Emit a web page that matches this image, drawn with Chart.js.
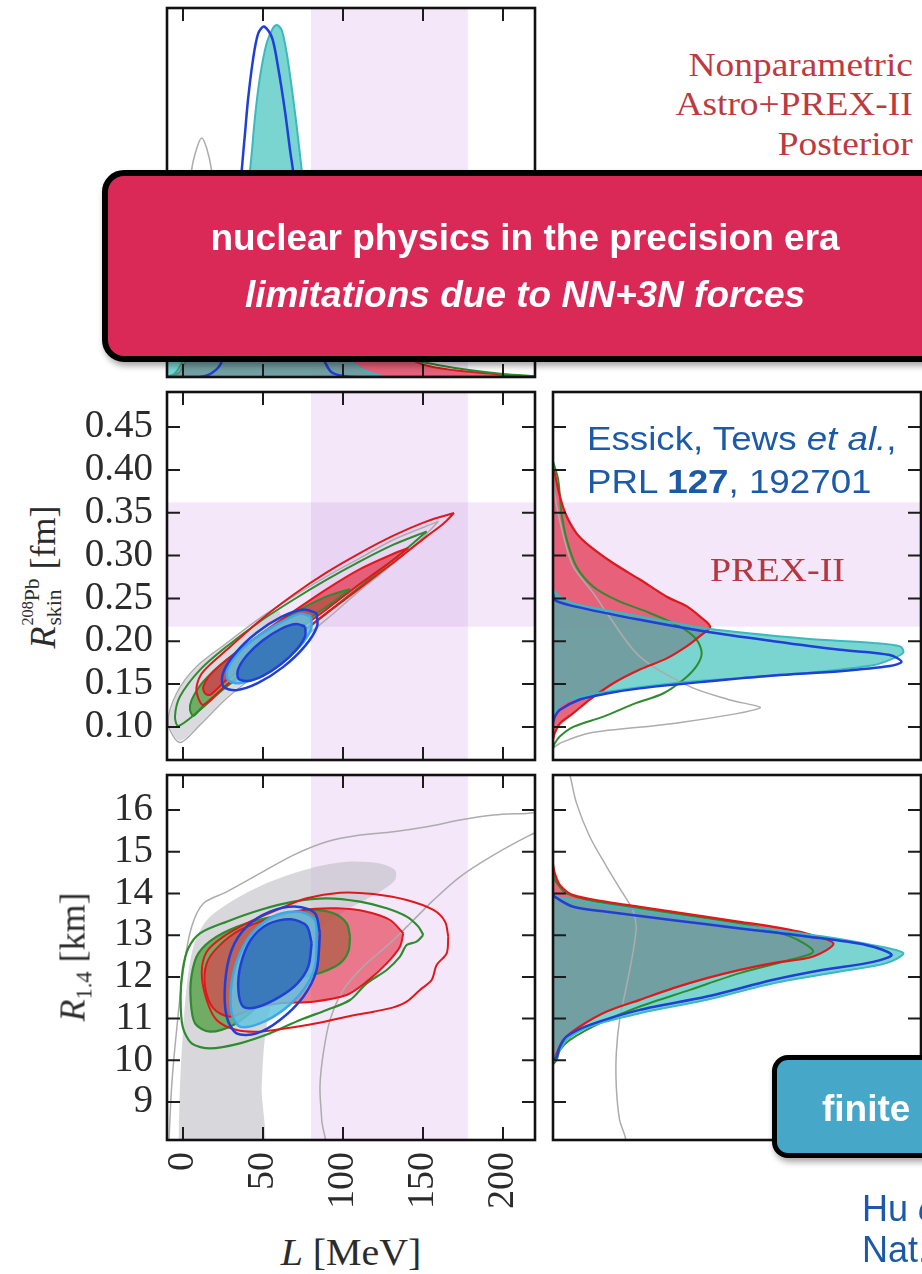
<!DOCTYPE html>
<html><head><meta charset="utf-8">
<script src="https://cdn.jsdelivr.net/npm/chart.js@4.4.1/dist/chart.umd.min.js"></script>
<style>
html,body{margin:0;padding:0;background:#fff;}
body{width:922px;height:1274px;position:relative;overflow:hidden;}
canvas{position:absolute;}
.t{position:absolute;white-space:nowrap;line-height:1;}
.serif{font-family:'Liberation Serif','DejaVu Serif',serif;}
.sans{font-family:'Liberation Sans',Arial,sans-serif;}
.ax{position:absolute;font-family:'Liberation Serif',serif;font-size:36px;color:#2b2b2b;white-space:nowrap;line-height:1;}
.rot{transform:translate(-50%,-50%) rotate(-90deg);}
.ss{display:inline-block;vertical-align:-0.3em;font-size:0.6em;line-height:1;margin-left:1px;text-align:left;}
.ss span{display:block;}
.ss small{font-size:0.75em;position:relative;top:-0.35em;}
.tr{position:absolute;right:9px;font-family:'Liberation Serif',serif;font-size:34px;color:#bd3a3f;line-height:1;white-space:nowrap;transform:scaleX(1.1);transform-origin:right center;}
.bt{position:absolute;font-family:'Liberation Sans',Arial,sans-serif;color:#1c5aa8;line-height:1;white-space:nowrap;}
.wide{transform:scaleX(1.08);transform-origin:left center;}
</style></head><body>
<canvas id="tl" width="382" height="384" style="left:160px;top:0px"></canvas>
<canvas id="ml" width="462" height="382" style="left:80px;top:385px"></canvas>
<canvas id="mr" width="385" height="382" style="left:546px;top:385px"></canvas>
<canvas id="bl" width="462" height="460" style="left:80px;top:768px"></canvas>
<canvas id="br" width="385" height="379" style="left:546px;top:768px"></canvas>

<div class="tr" style="top:48px">Nonparametric</div>
<div class="tr" style="top:87px">Astro+PREX-II</div>
<div class="tr" style="top:127px">Posterior</div>

<div class="t serif" style="left:710px;top:554px;font-size:33px;color:#b5373f;transform:scaleX(1.15);transform-origin:left center">PREX-II</div>

<div class="bt wide" style="left:587px;top:421px;font-size:34px">Essick, Tews <i>et al.</i>,</div>
<div class="bt wide" style="left:587px;top:464px;font-size:34px">PRL <b>127</b>, 192701</div>

<div class="ax rot" style="left:44px;top:577px"><i>R</i><span class="ss"><span><small>208</small>Pb</span><span>skin</span></span>&nbsp;[fm]</div>
<div class="ax rot" style="left:75px;top:957px"><i>R</i><sub style="font-size:0.62em;vertical-align:-0.3em">1.4</sub>&nbsp;[km]</div>
<div class="ax" style="left:351px;top:1233px;font-size:38px;transform:translateX(-50%) scaleX(1.05)"><i>L</i>&nbsp;[MeV]</div>

<div style="position:absolute;left:102px;top:170px;width:850px;height:192px;box-sizing:border-box;border:6px solid #000;border-radius:22px;background:#da2857;box-shadow:2px 4px 6px rgba(0,0,0,0.35);"></div>
<div class="t sans" style="left:525px;top:219px;transform:translateX(-50%);font-size:37px;font-weight:bold;color:#fff">nuclear physics in the precision era</div>
<div class="t sans" style="left:525px;top:276px;transform:translateX(-50%);font-size:37px;font-weight:bold;font-style:italic;color:#fff">limitations due to NN+3N forces</div>

<div style="position:absolute;left:772px;top:1055px;width:320px;height:103px;box-sizing:border-box;border:5px solid #000;border-radius:16px;background:#46a7c9;box-shadow:2px 4px 6px rgba(0,0,0,0.35);"></div>
<div class="t sans" style="left:822px;top:1090px;font-size:37px;font-weight:bold;color:#fff">finite</div>

<div class="bt" style="left:862px;top:1191px;font-size:36px">Hu <i>et al.</i>,</div>
<div class="bt" style="left:862px;top:1232px;font-size:36px">Nat. Phys. 18, 1196</div>

<script>
// ---- axis ticks & bands ----
const lTicks = [0, 50, 100, 150, 200];
const skinTicks = [0.10, 0.15, 0.20, 0.25, 0.30, 0.35, 0.40, 0.45];
const r14Ticks = [9, 10, 11, 12, 13, 14, 15, 16];
const prexL = [80, 178];
const prexSkin = [0.217, 0.362];

// ---- top-left: marginal of L  [L, density] ----
const lGray = [[-10,0.08],[0,0.12],[3,0.35],[5.4,0.56],[8.6,0.62],[11.7,0.648],[14.8,0.62],[17.9,0.56],[22,0.42],[28,0.28],[40,0.17],[60,0.12],[100,0.09],[150,0.08],[220,0.075]];
const lRed = [[-10,0],[-3,0.01],[0,0.03],[5,0.07],[15,0.16],[30,0.3],[45,0.42],[60,0.48],[75,0.46],[90,0.37],[105,0.24],[120,0.13],[135,0.068],[150,0.034],[170,0.018],[190,0.01],[205,0.004],[220,0]];
const lGreen = [[-10,0],[-5,0.01],[0,0.045],[10,0.15],[25,0.31],[40,0.43],[55,0.45],[70,0.39],[85,0.28],[100,0.17],[120,0.085],[140,0.05],[160,0.032],[180,0.018],[200,0.008],[220,0.002]];
const lCyan = [[-10,0.05],[0,0.06],[10,0.07],[20,0.09],[28,0.15],[34,0.3],[38,0.45],[41.9,0.561],[45,0.705],[48.1,0.813],[52.3,0.905],[56.25,0.946],[58.75,0.954],[61.7,0.94],[64.8,0.878],[67.9,0.786],[71.1,0.678],[74.2,0.561],[78,0.43],[82,0.3],[87,0.17],[93,0.09],[100,0.055],[105,0.04],[115,0.015],[130,0],[220,0]];
const lBlue = [[-10,0],[10,0],[18,0.011],[24,0.04],[30,0.2],[34,0.4],[36.7,0.56],[38.75,0.66],[40.6,0.75],[43.75,0.86],[46.9,0.93],[50.6,0.95],[55.6,0.92],[59.4,0.84],[63.75,0.72],[66.9,0.615],[68.75,0.56],[72,0.44],[76,0.3],[80,0.18],[85,0.08],[89,0.038],[93,0.012],[100,0.003],[110,0],[220,0]];

// ---- middle-left: R_skin vs L contours [L, R_skin] ----
const skinGrayOuter = [[159.6,0.3399],[131.5,0.3185],[110.6,0.2971],[89.8,0.2757],[69.0,0.2523],[48.1,0.2270],[27.3,0.1978],[8.5,0.1705],[-4.0,0.1393],[-9.2,0.1043],[-1.9,0.0817],[10.6,0.1024],[27.3,0.1335],[48.1,0.1647],[69.0,0.1947],[89.8,0.2258],[110.6,0.2593],[131.5,0.2904],[148.1,0.3177],[159.6,0.3399]];
const skinGrayFill = [[60,0.236],[48.1,0.2240],[27.3,0.1960],[8.5,0.1690],[-3.5,0.1390],[-8.6,0.1050],[-1.9,0.0840],[10.6,0.1040],[27.3,0.1350],[48.1,0.1660],[60,0.182],[66,0.205],[60,0.236]];
const skinGreenOuter = [[152.3,0.3282],[131.5,0.3127],[110.6,0.2932],[89.8,0.2718],[69.0,0.2484],[48.1,0.2231],[27.3,0.1939],[10.6,0.1666],[-1.9,0.1354],[-5.0,0.1121],[-2.9,0.1012],[10.6,0.1199],[27.3,0.1471],[48.1,0.1744],[69.0,0.2017],[89.8,0.2328],[110.6,0.2640],[131.5,0.2951],[144.0,0.3146],[152.3,0.3282]];
const skinGreenFill = [[104.4,0.2609],[89.8,0.2523],[69.0,0.2328],[48.1,0.2075],[27.3,0.1783],[12.7,0.1530],[5.4,0.1315],[4.4,0.1199],[6.5,0.1129],[12.7,0.1248],[23.1,0.1420],[37.7,0.1650],[58.5,0.1960],[79.4,0.2270],[94.0,0.2460],[104.4,0.2609]];
const skinRedOuter = [[169.4,0.3496],[152.3,0.3399],[131.5,0.3232],[110.6,0.3029],[89.8,0.2803],[69.0,0.2542],[48.1,0.2243],[27.3,0.1900],[12.7,0.1647],[8.5,0.1471],[9.6,0.1335],[12.7,0.1257],[27.3,0.1491],[48.1,0.1764],[69.0,0.2036],[89.8,0.2328],[110.6,0.2620],[131.5,0.2920],[152.3,0.3224],[162.7,0.3372],[169.4,0.3496]];
const skinRedFill = [[140.8,0.3088],[131.5,0.3021],[110.6,0.2842],[89.8,0.2609],[69.0,0.2347],[48.1,0.2075],[27.3,0.1783],[16.9,0.1608],[12.7,0.1471],[13.8,0.1393],[16.9,0.1374],[27.3,0.1549],[48.1,0.1822],[69.0,0.2094],[89.8,0.2374],[110.6,0.2670],[131.5,0.2951],[140.8,0.3088]];
const skinCyanMid = [[80,0.229],[80,0.214],[73,0.194],[61,0.174],[47,0.158],[35,0.151],[28,0.155],[28,0.168],[35,0.187],[47,0.206],[61,0.222],[73,0.232],[80,0.229]];
const skinBlueFill = [[76.3,0.2172],[76.4,0.2063],[70.9,0.1901],[61.2,0.1731],[50.0,0.1597],[40.3,0.1537],[34.6,0.1565],[34.5,0.1675],[40.0,0.1837],[49.6,0.2006],[60.8,0.2140],[70.6,0.2200],[76.3,0.2172]];
const skinBlueOuter = [[83.5,0.2328],[83.8,0.2172],[76.2,0.1943],[62.7,0.1701],[47.0,0.1514],[33.3,0.1429],[25.2,0.1471],[25.0,0.1628],[32.6,0.1858],[46.0,0.2098],[61.8,0.2286],[75.5,0.2370],[83.5,0.2328]];

// ---- middle-right: marginal of R_skin [density, R_skin] ----
const skinRedD = [[0,0.40],[0.005,0.396],[0.014,0.377],[0.033,0.350],[0.064,0.326],[0.100,0.311],[0.164,0.291],[0.236,0.272],[0.309,0.252],[0.363,0.241],[0.399,0.229],[0.427,0.217],[0.399,0.206],[0.363,0.194],[0.309,0.180],[0.236,0.167],[0.164,0.151],[0.100,0.132],[0.055,0.116],[0.019,0.104],[0.005,0.093],[0,0.085]];
const skinGreenD = [[0,0.41],[0.014,0.389],[0.023,0.350],[0.037,0.319],[0.064,0.287],[0.109,0.264],[0.173,0.248],[0.263,0.233],[0.345,0.217],[0.390,0.202],[0.404,0.186],[0.390,0.171],[0.354,0.155],[0.299,0.139],[0.227,0.128],[0.137,0.112],[0.055,0.100],[0.019,0.089],[0.005,0.081],[0,0.075]];
const skinBlueD = [[0,0.255],[0.005,0.248],[0.055,0.241],[0.236,0.225],[0.418,0.211],[0.599,0.200],[0.780,0.190],[0.915,0.184],[0.947,0.176],[0.915,0.171],[0.780,0.165],[0.599,0.160],[0.418,0.153],[0.236,0.145],[0.146,0.139],[0.073,0.132],[0.019,0.120],[0.005,0.112],[0,0.105]];
const skinCyanD = [[0,0.26],[0.019,0.252],[0.055,0.244],[0.236,0.229],[0.418,0.215],[0.689,0.203],[0.870,0.198],[0.943,0.194],[0.952,0.187],[0.925,0.180],[0.870,0.172],[0.689,0.163],[0.508,0.157],[0.327,0.151],[0.146,0.141],[0.055,0.133],[0.019,0.126],[0,0.115]];
const skinGrayD = [[0,0.40],[0.005,0.37],[0.03,0.32],[0.055,0.287],[0.11,0.256],[0.146,0.233],[0.236,0.182],[0.372,0.147],[0.481,0.1315],[0.562,0.122],[0.327,0.104],[0.1,0.093],[0.019,0.081],[0,0.075]];

// ---- bottom-left: R_1.4 vs L contours [L, R_1.4] ----
const r14GrayOuter = [[-9.2,7.7],[-7.1,9.37],[-4.0,10.72],[0.2,12.17],[5.4,13.20],[12.7,13.76],[27.3,14.04],[48.1,14.48],[69.0,14.92],[89.8,15.24],[110.6,15.40],[131.5,15.48],[152.3,15.60],[173.1,15.76],[194.0,15.88],[214.8,15.92],[235,15.96],[235,15.72],[216.9,15.40],[194.0,14.92],[173.1,14.40],[156.5,13.84],[144.0,13.36],[129.4,12.81],[112.7,12.25],[100.2,11.69],[91.9,10.97],[87.7,10.17],[85.6,9.37],[86.7,8.57],[87.7,7.7],[-9.2,7.7]];
const r14GrayFill = [[-2.9,7.7],[-1.9,9.37],[-0.2,10.57],[2.3,11.77],[6.5,12.73],[14.8,13.36],[31.5,13.84],[54.4,14.28],[79.4,14.60],[102.3,14.76],[123.1,14.72],[132.5,14.56],[132.5,14.32],[123.1,14.04],[102.3,13.60],[81.5,13.05],[66.9,12.41],[56.5,11.53],[51.3,10.57],[49.2,9.37],[48.1,7.7],[-2.9,7.7]];
const r14RedOuter = [[165.8,12.965],[164.8,12.565],[158.5,12.285],[155.4,11.926],[148.1,11.686],[139.8,11.406],[131.5,11.270],[119.0,11.166],[102.3,11.047],[83.5,10.887],[64.8,10.767],[48.1,10.687],[33.5,10.727],[21.0,10.967],[14.8,11.446],[11.7,12.085],[14.8,12.605],[25.2,12.965],[39.8,13.284],[58.5,13.604],[77.3,13.884],[98.1,14.020],[119.0,13.988],[139.8,13.844],[156.5,13.604],[163.8,13.324],[165.8,12.965]];
const r14GreenOuter = [[150.2,13.005],[146.0,12.845],[139.8,12.765],[135.6,12.485],[127.3,12.165],[114.8,11.846],[104.4,11.446],[89.8,11.206],[73.1,10.967],[54.4,10.647],[35.6,10.407],[16.9,10.287],[5.4,10.407],[-0.2,10.807],[-1.5,11.526],[-0.2,12.165],[3.3,12.685],[10.6,13.045],[27.3,13.324],[48.1,13.604],[69.0,13.804],[89.8,13.884],[110.6,13.804],[127.3,13.644],[139.8,13.444],[147.1,13.205],[150.2,13.005]];
const r14GreenFill = [[104.4,12.965],[103.3,12.605],[98.1,12.325],[87.7,12.125],[73.1,11.966],[58.5,11.686],[44.0,11.206],[31.5,10.847],[16.9,10.687],[7.5,10.887],[4.8,11.446],[5.4,12.046],[9.6,12.565],[21.0,12.965],[39.8,13.284],[60.6,13.484],[79.4,13.604],[94.0,13.524],[102.3,13.284],[104.4,12.965]];
const r14RedFill = [[137.7,13.045],[135.6,12.725],[127.3,12.325],[114.8,11.886],[102.3,11.566],[81.5,11.406],[60.6,11.366],[44.0,11.246],[29.4,11.047],[19.0,11.246],[13.8,11.766],[14.8,12.325],[22.1,12.725],[35.6,13.125],[54.4,13.404],[75.2,13.604],[96.0,13.644],[114.8,13.564],[129.4,13.364],[137.7,13.045]];
const r14Cyan = [[83.5,12.965],[82.5,12.245],[75.2,11.686],[62.7,11.206],[48.1,10.887],[35.6,10.807],[30.4,11.126],[30.4,11.846],[35.6,12.565],[45.0,13.125],[58.5,13.484],[73.1,13.564],[82.5,13.364],[83.5,12.965]];
const r14BlueFill = [[80.4,12.805],[78.3,12.245],[71.5,11.846],[60.6,11.526],[47.1,11.286],[37.7,11.286],[34.6,11.686],[36.0,12.285],[42.3,12.885],[53.3,13.268],[67.3,13.380],[77.3,13.220],[80.4,12.805]];
const r14BlueOuter = [[85.6,13.045],[83.5,12.165],[75.2,11.526],[60.6,10.967],[46.0,10.647],[33.5,10.647],[27.3,11.047],[26.3,11.846],[30.4,12.645],[39.8,13.205],[54.4,13.564],[71.0,13.684],[82.5,13.524],[85.6,13.045]];

// ---- bottom-right: marginal of R_1.4 [density, R_1.4] ----
const r14RedD = [[0,14.7],[0.005,14.48],[0.019,14.20],[0.055,13.96],[0.146,13.80],[0.236,13.68],[0.327,13.56],[0.418,13.44],[0.508,13.32],[0.599,13.20],[0.689,13.04],[0.762,12.80],[0.707,12.49],[0.599,12.33],[0.508,12.17],[0.418,11.97],[0.327,11.73],[0.236,11.45],[0.146,11.17],[0.073,10.81],[0.028,10.49],[0.010,10.17],[0,10.0]];
const r14GreenD = [[0,14.5],[0.005,14.32],[0.037,14.00],[0.146,13.76],[0.327,13.52],[0.508,13.28],[0.644,12.97],[0.707,12.61],[0.644,12.41],[0.508,12.09],[0.372,11.69],[0.236,11.29],[0.128,10.89],[0.046,10.49],[0.019,10.25],[0.010,10.01],[0,9.9]];
const r14BlueD = [[0,14.0],[0.005,13.92],[0.055,13.68],[0.146,13.56],[0.327,13.36],[0.508,13.16],[0.689,12.97],[0.853,12.76],[0.920,12.53],[0.870,12.36],[0.735,12.17],[0.599,11.93],[0.418,11.53],[0.236,11.21],[0.100,10.85],[0.037,10.57],[0.019,10.33],[0.010,10.09],[0,10.0]];
const r14CyanD = [[0,14.0],[0.005,13.92],[0.236,13.60],[0.508,13.24],[0.735,12.97],[0.870,12.76],[0.952,12.57],[0.906,12.33],[0.780,12.13],[0.599,11.85],[0.418,11.45],[0.236,11.13],[0.100,10.81],[0.037,10.49],[0.014,10.17],[0,10.0]];
const r14GrayD = [[0.040,17.0],[0.046,16.84],[0.064,16.16],[0.10,15.36],[0.146,14.64],[0.19,14.00],[0.217,13.60],[0.226,13.20],[0.217,12.57],[0.1995,11.77],[0.181,10.97],[0.172,10.17],[0.172,9.37],[0.181,8.57],[0.196,8.17],[0.20,7.9]];

// ---- styles ----
const C = {
  red: '#e0181b', green: '#2e8b2e', gray: '#acacac', blue: '#1f3fd8', lblue: '#3aa8ee', teal: '#3cb8c0',
  redFill: 'rgba(225,45,70,0.72)', cyanFill: 'rgba(50,190,185,0.65)',
  greenFill: 'rgba(95,165,80,0.85)', grayFill: 'rgba(190,190,196,0.55)',
  lblueFill: 'rgba(100,195,225,0.85)', steel: 'rgb(58,122,186)', band: 'rgba(190,120,220,0.18)'
};
const FONT_TICK_Y = {family: "'Liberation Serif','DejaVu Serif',serif", size: 39};
const FONT_TICK_X = {family: "'Liberation Serif','DejaVu Serif',serif", size: 38};
const L_RANGE = {min: -10, max: 220};
const SKIN_RANGE = {min: 0.0614, max: 0.4909};
const R14_RANGE = {min: 8.09, max: 16.84};

function xy(arr) { return arr.map(p => ({x: p[0], y: p[1]})); }
function fillSet(arr, color) { return {data: xy(arr), polyFill: color, borderWidth: 0, pointRadius: 0, tension: 0.3, fill: false, clip: 0}; }
function lineSet(arr, color, w) { return {data: xy(arr), borderColor: color, borderWidth: w, pointRadius: 0, tension: 0.3, fill: false, clip: 0}; }
function areaSet(arr, color, fillColor, w) { return {data: xy(arr), borderColor: color, borderWidth: w, backgroundColor: fillColor, fill: 'origin', pointRadius: 0, tension: 0.3, clip: 0}; }
function ordered(list) { const n = list.length; list.forEach((d, i) => { d.order = n - i; }); return list; }

const polyFillPlugin = {
  id: 'polyFill',
  beforeDatasetDraw(chart, args) {
    const ds = chart.data.datasets[args.index];
    if (!ds.polyFill) return;
    const meta = args.meta, line = meta.dataset, a = chart.chartArea, ctx = chart.ctx;
    if (!line || !line.points || !line.points.length) return;
    line.updateControlPoints(a, meta.iScale.axis);
    ctx.save();
    ctx.beginPath(); ctx.rect(a.left, a.top, a.right - a.left, a.bottom - a.top); ctx.clip();
    ctx.beginPath();
    line.path(ctx);
    ctx.closePath();
    ctx.fillStyle = ds.polyFill;
    ctx.fill();
    ctx.restore();
  }
};

function makePanel(cfg) {
  return {
    id: 'panel',
    beforeDatasetsDraw(chart) {
      const {ctx, chartArea: a, scales: {x, y}} = chart;
      ctx.save();
      ctx.fillStyle = C.band;
      if (cfg.bandX) { const p0 = x.getPixelForValue(cfg.bandX[0]), p1 = x.getPixelForValue(cfg.bandX[1]); ctx.fillRect(p0, a.top, p1 - p0, a.bottom - a.top); }
      if (cfg.bandY) { const p0 = y.getPixelForValue(cfg.bandY[1]), p1 = y.getPixelForValue(cfg.bandY[0]); ctx.fillRect(a.left, p0, a.right - a.left, p1 - p0); }
      ctx.restore();
    },
    afterDatasetsDraw(chart) {
      const {ctx, chartArea: a, scales: {x, y}} = chart;
      const T = 13;
      ctx.save();
      ctx.strokeStyle = '#1c1c1c'; ctx.lineWidth = 2;
      ctx.beginPath();
      (cfg.xt || []).forEach(v => { const p = x.getPixelForValue(v); ctx.moveTo(p, a.top); ctx.lineTo(p, a.top + T); ctx.moveTo(p, a.bottom); ctx.lineTo(p, a.bottom - T); });
      (cfg.yt || []).forEach(v => { const p = y.getPixelForValue(v); ctx.moveTo(a.left, p); ctx.lineTo(a.left + T, p); ctx.moveTo(a.right, p); ctx.lineTo(a.right - T, p); });
      ctx.stroke();
      ctx.lineWidth = 2.6; ctx.strokeStyle = '#111';
      ctx.strokeRect(a.left, a.top, a.right - a.left, a.bottom - a.top);
      ctx.restore();
    }
  };
}

function zeroPad(s) { s.paddingTop = 0; s.paddingBottom = 0; s.paddingLeft = 0; s.paddingRight = 0; }
function hiddenAxis(range) { return Object.assign({type: 'linear', display: false}, range); }
function labelledY(range, ticks, fmt) {
  return Object.assign({
    type: 'linear',
    afterBuildTicks: s => { s.ticks = ticks.map(v => ({value: v})); },
    afterFit: s => { s.width = 87; zeroPad(s); },
    grid: {display: false, drawTicks: false},
    border: {display: false},
    ticks: {font: FONT_TICK_Y, color: '#2b2b2b', padding: 14, autoSkip: false, callback: fmt}
  }, range);
}

function makeChart(id, datasets, scales, padding, panelCfg) {
  return new Chart(document.getElementById(id), {
    type: 'line',
    data: {datasets: ordered(datasets)},
    options: {
      responsive: false, animation: false, devicePixelRatio: 1, events: [],
      layout: {padding},
      plugins: {legend: {display: false}, tooltip: {enabled: false}},
      scales
    },
    plugins: [polyFillPlugin, makePanel(panelCfg)]
  });
}

// top-left
makeChart('tl', [
  areaSet(lRed, C.red, C.redFill, 2),
  lineSet(lGreen, C.green, 2),
  lineSet(lGray, C.gray, 1.5),
  areaSet(lCyan, C.teal, C.cyanFill, 2),
  lineSet(lBlue, C.blue, 2.5)
], {x: hiddenAxis(L_RANGE), y: hiddenAxis({min: 0, max: 1})},
{left: 7, top: 8, right: 7, bottom: 7}, {bandX: prexL, xt: lTicks});

// middle-left
makeChart('ml', [
  fillSet(skinGrayFill, C.grayFill),
  fillSet(skinGreenFill, C.greenFill),
  fillSet(skinRedFill, 'rgba(225,45,70,0.7)'),
  lineSet(skinGrayOuter, C.gray, 1.5),
  lineSet(skinGreenOuter, C.green, 2),
  lineSet(skinGreenFill, C.green, 2),
  lineSet(skinRedOuter, C.red, 2),
  lineSet(skinRedFill, C.red, 2),
  fillSet(skinCyanMid, C.lblueFill),
  lineSet(skinCyanMid, C.lblue, 2.5),
  fillSet(skinBlueFill, C.steel),
  lineSet(skinBlueFill, C.blue, 2.5),
  lineSet(skinBlueOuter, C.blue, 2.5)
], {x: hiddenAxis(L_RANGE), y: labelledY(SKIN_RANGE, skinTicks, v => Number(v).toFixed(2))},
{left: 0, top: 7, right: 7, bottom: 7}, {bandX: prexL, bandY: prexSkin, xt: lTicks, yt: skinTicks});

// middle-right
makeChart('mr', [
  fillSet(skinRedD, C.redFill),
  fillSet(skinCyanD, C.cyanFill),
  lineSet(skinGrayD, C.gray, 1.5),
  lineSet(skinGreenD, C.green, 2),
  lineSet(skinRedD, C.red, 2.2),
  lineSet(skinCyanD, C.teal, 2),
  lineSet(skinBlueD, C.blue, 2.5)
], {x: hiddenAxis({min: 0, max: 1}), y: hiddenAxis(SKIN_RANGE)},
{left: 7, top: 7, right: 10, bottom: 7}, {bandY: prexSkin, yt: skinTicks});

// bottom-left
makeChart('bl', [
  fillSet(r14GrayFill, 'rgba(190,190,196,0.6)'),
  fillSet(r14GreenFill, C.greenFill),
  fillSet(r14RedFill, 'rgba(230,60,80,0.65)'),
  lineSet(r14GrayOuter, C.gray, 1.5),
  lineSet(r14GreenOuter, C.green, 2.2),
  lineSet(r14GreenFill, C.green, 2.2),
  lineSet(r14RedOuter, C.red, 2),
  lineSet(r14RedFill, C.red, 2),
  fillSet(r14Cyan, C.lblueFill),
  lineSet(r14Cyan, C.lblue, 2.5),
  fillSet(r14BlueFill, C.steel),
  lineSet(r14BlueFill, C.blue, 2.5),
  lineSet(r14BlueOuter, C.blue, 2.5)
], {
  x: Object.assign({
    type: 'linear',
    afterBuildTicks: s => { s.ticks = lTicks.map(v => ({value: v})); },
    afterFit: s => { s.height = 88; zeroPad(s); },
    grid: {display: false, drawTicks: false},
    border: {display: false},
    ticks: {font: FONT_TICK_X, color: '#2b2b2b', padding: 12, minRotation: 90, maxRotation: 90, autoSkip: false}
  }, L_RANGE),
  y: labelledY(R14_RANGE, r14Ticks, v => String(v))
}, {left: 0, top: 7, right: 7, bottom: 0}, {bandX: prexL, xt: lTicks, yt: r14Ticks});

// bottom-right
makeChart('br', [
  fillSet(r14RedD, C.redFill),
  fillSet(r14CyanD, C.cyanFill),
  lineSet(r14GrayD, C.gray, 1.5),
  lineSet(r14GreenD, C.green, 2),
  lineSet(r14RedD, C.red, 2.2),
  lineSet(r14CyanD, C.teal, 2),
  lineSet(r14BlueD, C.blue, 2.5)
], {x: hiddenAxis({min: 0, max: 1}), y: hiddenAxis(R14_RANGE)},
{left: 7, top: 7, right: 10, bottom: 7}, {yt: r14Ticks});
</script>
</body></html>
